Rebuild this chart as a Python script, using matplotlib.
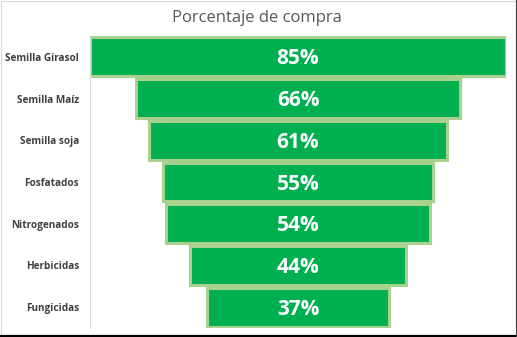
import matplotlib.pyplot as plt
from matplotlib.patches import Rectangle

# datos del embudo
categorias = ['Semilla Girasol', 'Semilla Maíz', 'Semilla soja', 'Fosfatados',
              'Nitrogenados', 'Herbicidas', 'Fungicidas']
porcentajes = [85, 66, 61, 55, 54, 44, 37]
etiquetas = ['85%', '66%', '61%', '55%', '54%', '44%', '37%']

plt.rcParams['font.family'] = ['Open Sans', 'DejaVu Sans']

fig = plt.figure(figsize=(5.17, 3.37), dpi=100)
ax = fig.add_axes([90 / 517, 1 - 328 / 337, 416 / 517, 292 / 337])

maximo = max(porcentajes)
izq = [(maximo - v) / 2 for v in porcentajes]
pos = list(range(len(categorias)))

ax.barh(pos, porcentajes, left=izq, height=0.93, color='#00b050',
        edgecolor='#a9d18e', linewidth=2.2)

for p, txt in zip(pos, etiquetas):
    ax.text(maximo / 2, p + 0.05, txt, ha='center', va='center', color='white',
            fontsize=15, fontweight='bold')

ax.set_xlim(0, maximo)
ax.set_ylim(len(categorias) - 0.5, -0.5)
ax.set_yticks(pos)
ax.set_yticklabels(categorias, fontsize=7.2, fontweight='bold', color='#404040')
ax.tick_params(axis='y', length=0, pad=8)
ax.set_xticks([])
for s in ['top', 'right', 'bottom']:
    ax.spines[s].set_visible(False)
ax.spines['left'].set_color('#d9d9d9')
ax.spines['left'].set_linewidth(0.8)

fig.text(257 / 517, 1 - 18 / 337, 'Porcentaje de compra', ha='center',
         va='center', fontsize=12, color='#595959')

# marco del gráfico
fig.patches.append(Rectangle((0.001, 0.004), 0.997, 0.994, transform=fig.transFigure,
                             fill=False, edgecolor='#d9d9d9', linewidth=0.8))
fig.add_artist(plt.Line2D([0, 1], [0.003, 0.003], color='black', linewidth=1.6))
fig.add_artist(plt.Line2D([0.999, 0.999], [0, 1], color='#404040', linewidth=0.8))

fig.savefig('out.png', dpi=100)
